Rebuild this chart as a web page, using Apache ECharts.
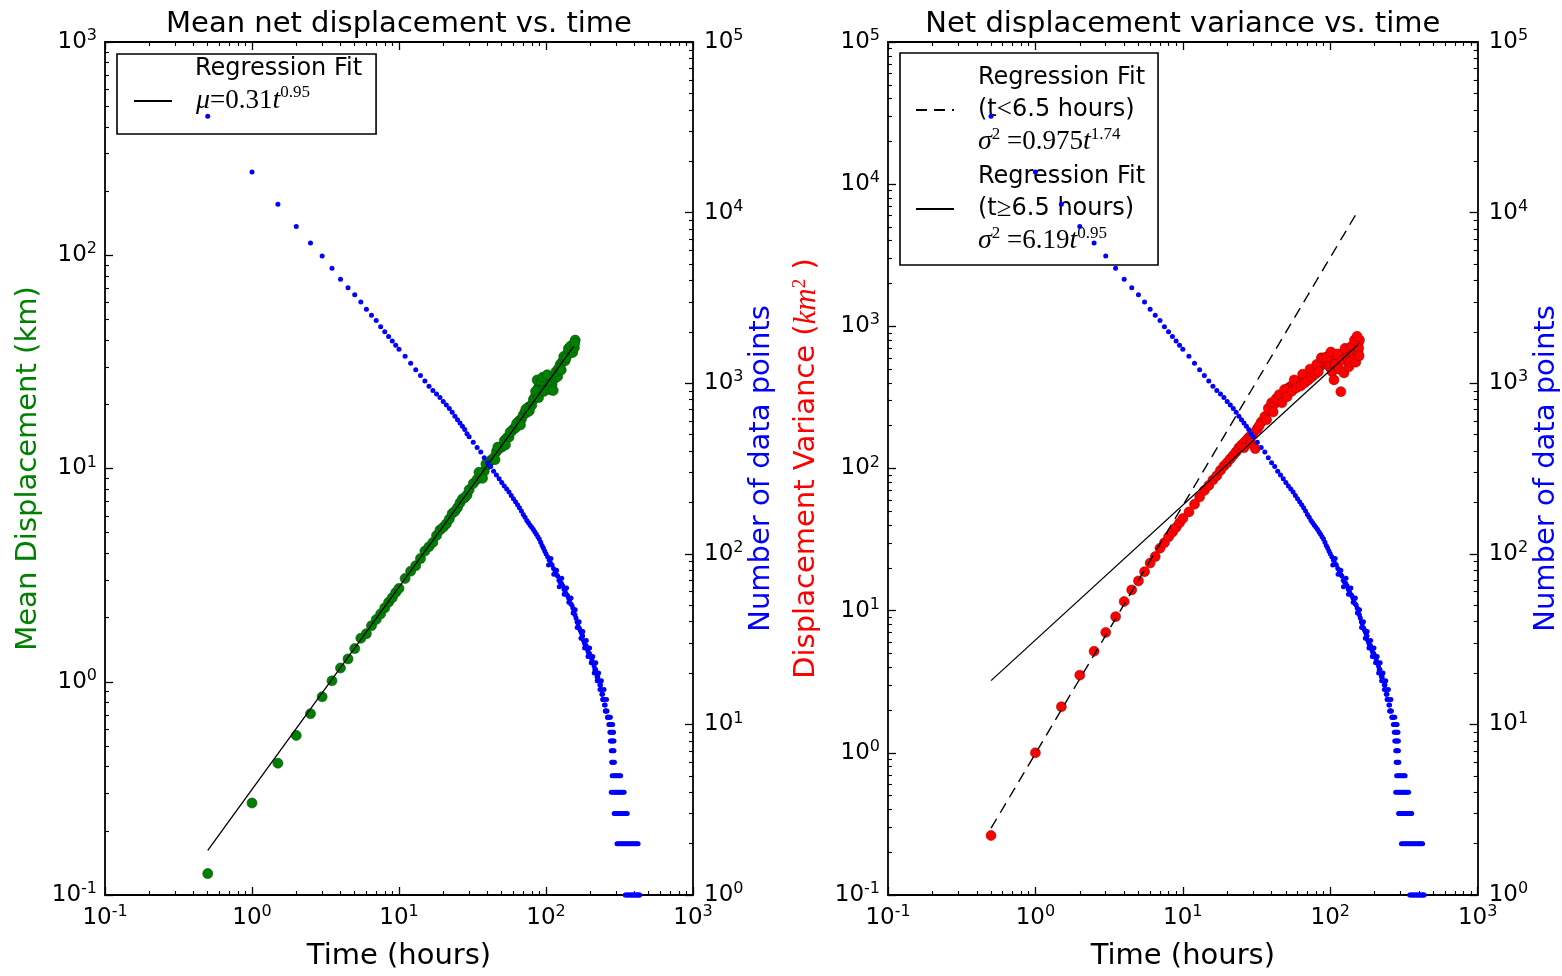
<!DOCTYPE html>
<html>
<head>
<meta charset="utf-8">
<script src="https://cdn.jsdelivr.net/npm/echarts@6/dist/echarts.min.js"></script>
<style>html,body{margin:0;padding:0;background:#fff}#c{width:1562px;height:976px}</style>
</head>
<body>
<div id="c"></div>
<script>
// ---------------- DATA ----------------
// time grid (hours) shared by mean displacement and variance samples
const TIME_GR = [0.5,1,1.5,2,2.5,3,3.5,4,4.5,5,5.5,6,6.5,7,7.5,8,8.5,9,9.5,10,
  11,12,13,14,15,16,17,18,19,20,21,22,23,24,25,26,27,28,29,30,
  32,34,36,38,40,42,44,46,48,50,52,54,56,58,60,62,64,66,68,70,72,74,76,78,80,82,84,86,88,90,92,94,96,98,100,
  105,110,115,120,125,130,135,140,145,150,155,158];
// mean net displacement (km)
const MEAN_DISP = [0.126,0.27,0.415,0.56,0.708,0.85,1.01,1.16,1.28,1.43,1.60,1.68,1.83,1.96,2.08,2.22,2.36,2.48,2.62,2.74,
  3.05,3.30,3.50,3.78,4.10,4.30,4.50,4.85,5.15,5.30,5.50,5.80,6.15,6.30,6.55,6.90,7.20,7.30,7.50,7.95,
  8.5,8.9,9.1,9.7,10.4,10.9,11.2,12.0,12.4,12.6,13.5,13.9,14.0,14.9,15.3,15.5,16.4,16.8,17.0,17.8,18.4,18.3,19.4,19.6,19.8,21.0,21.6,22.5,23.6,24.5,24.0,23.6,25.2,24.5,25.5,
  26.5,24.8,26.5,27.0,30.8,31.8,32.0,34.5,34.8,36.0,38.5,40.0];
// additional scattered mean-displacement samples [t, km]
const MEAN_DISP_SPREAD = [[35,9.6],[37,9.0],[39,10.5],[45,11.0],[47,12.6],[53,12.9],[57,14.8],[63,16.2],[67,16.0],[73,19.0],[77,18.6],
  [85,23.0],[87,26.0],[89,21.5],[93,25.8],[95,26.8],[97,23.0],[102,27.5],[107,23.4],[112,23.2],[117,28.5],[122,29.5],[127,29.0],
  [132,33.5],[137,33.0],[142,36.5],[147,37.5],[152,35.0],[156,36.8],[157,38.8]];
// displacement variance (km^2)
const VARIANCE = [0.262,1.0,2.11,3.52,5.18,7.03,9.08,11.6,14.0,16.2,18.8,21.6,24.0,27.5,30.0,33.0,35.6,38.5,41.5,44.5,
  49.5,56,63,70,76,83,89,97,104,110,117,124,131,140,146,152,158,165,170,176,
  190,212,232,265,290,285,300,315,335,350,368,378,385,395,405,412,420,432,440,446,456,470,480,486,500,506,520,530,540,546,556,562,570,576,582,
  592,610,625,636,652,670,680,690,702,722,760,800];
const VARIANCE_SPREAD = [[26,140],[29,150],[31,138],[33,200],[37,220],[41,250],[43,310],[45,330],[47,290],[49,360],[51,320],[55,350],
  [57,420],[59,370],[63,380],[65,460],[67,400],[71,420],[73,500],[75,440],[79,460],[81,540],[83,480],[87,600],[91,600],[95,610],
  [99,520],[101,660],[103,480],[106,420],[108,540],[112,640],[115,500],[118,347],[121,580],[124,470],[126,700],[131,600],[134,520],
  [136,560],[139,720],[143,640],[146,800],[149,560],[152,850],[154,650],[156,700],[157,620]];
// number of data points [t, count]
const COUNT_EARLY = [[0.5,36700],[1,17300],[1.5,11200],[2,8300],[2.5,6630],[3,5570],[3.5,4720],[4,4070],[4.5,3630],[5,3300],
  [5.5,2990],[6,2710],[6.5,2500],[7,2330],[7.5,2140],[8,2000],[8.5,1880],[9,1770],[9.5,1670],[10,1580],
  [11,1440],[12,1310],[13,1200],[14,1110],[15,1030],[16,960],[17,905],[18,865],[19,825],[20,780],[21,745],[22,710],[23,675],
  [24,640],[25,610],[26,585],[27,560],[28,535],[29,505],[30,485]];
const COUNT_MID = [[32,450],[34,420],[36,395],[38,365],[40,342],[42,325],[44,305],[46,290],[48,275],[50,262],[52,250],[54,240],
  [56,230],[58,220],[60,210],[62,202],[64,194],[66,186],[68,178],[70,170],[72,164],[74,157],[76,152],[78,147],[80,143],[82,139],
  [84,134],[86,130],[88,126],[90,122],[92,117],[94,112],[96,108],[98,104],[100,100]];
const COUNT_LATE = [[102.5,96],[105,92],[107.5,88],[110,86],[112.5,82],[115,80],[117.5,76],[120,74],[122.5,70],[125,68],
  [127.5,67],[130,65],[132.5,62],[135,60],[137.5,58],[140,57],[142.5,55],[145,54],[147.5,51],[150,50],[152.5,48],[155,46],
  [157.5,44],[160,42],[162.5,40],[165,39],[167.5,37],[170,36],[172.5,35],[175,34],[177.5,33],[180,31],[182.5,30],[185,29],
  [187.5,29],[190,28],[192.5,27],[195,26],[197.5,26],[200,25],[202.5,25],[205,24],[207.5,23],[210,23],[212.5,22],[215,21],
  [217.5,21],[220,20],[222.5,19],[225,19],[227.5,18],[230,18],[232.5,17],[235,17],[237.5,16],[240,15],[242.5,15],[245,14],
  [247.5,14],[250,13],[252.5,13],[255,12],[257.5,12],[260,12],[262.5,11],[265,11]];
const COUNT_SPREAD = [[104,86],[108,94],[113,76],[118,80],[123,64],[128,72],[133,58],[138,63],[143,52],[148,55],[153,45],[158,47],
  [163,37],[168,40],[173,32],[178,35],[183,28],[188,31],[193,25],[198,28],[203,23],[208,25],[213,20],[218,23],[223,18],[228,20],
  [233,16],[238,18],[243,14],[248,16],[253,12],[258,14]];
const COUNT_TAIL = [[262,11],[266,11],[270,11],[274,11],
  [268,10],[272,10],[276,10],[280,10],[284,10],
  [272,9],[276,9],[280,9],[285,9],[288,9],
  [274,8],[278,8],[282,8],[286,8],[290,8],
  [278,7],[282,7],[286,7],[290,7],
  [280,6],[284,6],[288,6],[292,6],
  [282,5],[288,5],[294,5],[300,5],[306,5],[312,5],[318,5],[322,5],
  [278,4],[284,4],[290,4],[296,4],[302,4],[308,4],[314,4],[320,4],[326,4],[332,4],[340,4],
  [291,3],[297,3],[303,3],[309,3],[315,3],[321,3],[327,3],[333,3],[339,3],[345,3],[351,3],[357,3],
  [304,2],[311,2],[318,2],[325,2],[332,2],[339,2],[346,2],[353,2],[360,2],[368,2],[376,2],[384,2],[392,2],[400,2],[408,2],[416,2],[423,2],
  [346,1],[352,1],[358,1],[364,1],[370,1],[376,1],[382,1],[388,1],[394,1],[400,1],[406,1],[412,1],[418,1],[424,1],[430,1],[434,1]];
// regression fit end points [t, value]
const FIT_MEAN = [[0.5,0.162],[155,37.5]];
const FIT_VAR_EARLY = [[0.5,0.295],[153,6400]];
const FIT_VAR_LATE = [[0.5,3.22],[155,745]];
// axis ranges (decade exponents)
const X_EXP = [-1, 3];
const Y_MEAN_EXP = [-1, 3];
const Y_VAR_EXP = [-1, 5];
const Y_COUNT_EXP = [0, 5];
const TITLES = ['Mean net displacement vs. time', 'Net displacement variance vs. time'];

// ---------------- CHART ----------------
const SANS = 'DejaVu Sans';
const SERIF = 'Liberation Serif';
const GREEN_C = '#008000', RED_C = '#ff0000', BLUE_C = '#0000ff';

function pair(ts, vs) { return ts.map((t, i) => [t, vs[i]]); }
function supLabel(v) { const e = Math.round(v); return '{b|10}{s|' + (e < 0 ? '-' : '') + Math.abs(e) + '}'; }
const tickRich = {
  b: { fontFamily: SANS, fontSize: 23, color: '#000', lineHeight: 28 },
  s: { fontFamily: SANS, fontSize: 16, color: '#000', lineHeight: 16, verticalAlign: 'top' }
};
function minorVals(r) {
  const out = [];
  for (let d = r[0]; d < r[1]; d++) for (let k = 2; k <= 9; k++) out.push(d + Math.log10(k));
  return out;
}
const AX_LINE = { color: '#000', width: 1.8 };
function majorAxis(g, pos, r, label, margin, extra) {
  return Object.assign({
    type: 'value', gridIndex: g, position: pos, min: r[0], max: r[1], interval: 1, silent: true,
    axisLine: { show: true, onZero: false, lineStyle: AX_LINE },
    axisTick: { show: true, inside: true, length: 8, lineStyle: { color: '#000', width: 1.3 } },
    axisLabel: { show: label, margin: margin, formatter: supLabel, rich: tickRich },
    splitLine: { show: false }
  }, extra || {});
}
function minorAxis(g, pos, r) {
  return {
    type: 'value', gridIndex: g, position: pos, min: r[0], max: r[1], silent: true,
    axisLine: { show: false, onZero: false },
    axisTick: { show: true, inside: true, length: 4, customValues: minorVals(r), lineStyle: { color: '#000', width: 1.1 } },
    axisLabel: { show: false }, splitLine: { show: false }
  };
}
function logAxis(g, pos, r) {
  return { type: 'log', logBase: 10, gridIndex: g, position: pos, min: Math.pow(10, r[0]), max: Math.pow(10, r[1]), show: false,
    axisLine: { onZero: false }, splitLine: { show: false } };
}
const nameStyle = (c) => ({ fontFamily: SANS, fontSize: 29, color: c });

const xAxes = [];
const yAxes = [];
[0, 1].forEach(g => {
  xAxes.push(logAxis(g, 'bottom', X_EXP));
  xAxes.push(majorAxis(g, 'bottom', X_EXP, true, 9, { name: 'Time (hours)', nameLocation: 'middle', nameGap: 47, nameTextStyle: nameStyle('#000') }));
  xAxes.push(minorAxis(g, 'bottom', X_EXP));
  xAxes.push(majorAxis(g, 'top', X_EXP, false, 8, { name: TITLES[g], nameLocation: 'middle', nameGap: 3, nameTextStyle: nameStyle('#000') }));
  xAxes.push(minorAxis(g, 'top', X_EXP));
});
// grid 0
yAxes.push(logAxis(0, 'left', Y_MEAN_EXP));
yAxes.push(logAxis(0, 'right', Y_COUNT_EXP));
yAxes.push(majorAxis(0, 'left', Y_MEAN_EXP, true, 8, { name: 'Mean Displacement (km)', nameLocation: 'middle', nameRotate: 90, nameGap: 62, nameTextStyle: nameStyle(GREEN_C) }));
yAxes.push(minorAxis(0, 'left', Y_MEAN_EXP));
yAxes.push(majorAxis(0, 'right', Y_COUNT_EXP, true, 11, { name: 'Number of data points', nameLocation: 'middle', nameRotate: 90, nameGap: 54, nameTextStyle: nameStyle(BLUE_C) }));
yAxes.push(minorAxis(0, 'right', Y_COUNT_EXP));
// grid 1
yAxes.push(logAxis(1, 'left', Y_VAR_EXP));
yAxes.push(logAxis(1, 'right', Y_COUNT_EXP));
yAxes.push(majorAxis(1, 'left', Y_VAR_EXP, true, 8, {
  name: '{t|Displacement Variance (}{m|km}{s|2}{t| )}', nameLocation: 'middle', nameRotate: 90, nameGap: 66,
  nameTextStyle: { rich: {
    t: { fontFamily: SANS, fontSize: 29, color: RED_C },
    m: { fontFamily: SERIF, fontStyle: 'italic', fontSize: 31, color: RED_C },
    s: { fontFamily: SERIF, fontSize: 19, color: RED_C, verticalAlign: 'top' } } }
}));
yAxes.push(minorAxis(1, 'left', Y_VAR_EXP));
yAxes.push(majorAxis(1, 'right', Y_COUNT_EXP, true, 11, { name: 'Number of data points', nameLocation: 'middle', nameRotate: 90, nameGap: 52, nameTextStyle: nameStyle(BLUE_C) }));
yAxes.push(minorAxis(1, 'right', Y_COUNT_EXP));

const blueAll = COUNT_EARLY.concat(COUNT_MID, COUNT_LATE, COUNT_SPREAD, COUNT_TAIL);
const greenAll = pair(TIME_GR, MEAN_DISP).concat(MEAN_DISP_SPREAD);
const redAll = pair(TIME_GR, VARIANCE).concat(VARIANCE_SPREAD);

const LEGEND_LABELS = {
  fitMean: '{mi|μ}{r|=0.31}{m|t}{s|0.95}',
  fitEarly: '{a|Regression Fit}\n{a|(t}{r|<}{b|6.5 hours)}\n{mi|σ}{s|2}{r| =0.975}{m|t}{s|1.74}',
  fitLate: '{a|Regression Fit}\n{a|(t}{r|≥}{b|6.5 hours)}\n{mi|σ}{s|2}{r| =6.19}{m|t}{s|0.95}'
};
function legendRich(lhText, lhMath) {
  return {
    a: { fontFamily: SANS, fontSize: 24, lineHeight: lhText, color: '#000', padding: [0, 0, 0, 19] },
    b: { fontFamily: SANS, fontSize: 24, lineHeight: lhText, color: '#000' },
    mi: { fontFamily: SERIF, fontStyle: 'italic', fontSize: 28, lineHeight: lhMath, color: '#000', padding: [0, 0, 0, 19] },
    m: { fontFamily: SERIF, fontStyle: 'italic', fontSize: 28, lineHeight: lhMath, color: '#000' },
    r: { fontFamily: SERIF, fontSize: 27, lineHeight: lhMath, color: '#000' },
    s: { fontFamily: SERIF, fontSize: 17, lineHeight: 22, color: '#000', verticalAlign: 'top' }
  };
}
const legendBase = {
  orient: 'vertical', borderColor: '#000', borderWidth: 1.6, backgroundColor: '#fff', selectedMode: false,
  itemWidth: 38, itemHeight: 14, formatter: n => LEGEND_LABELS[n],
  itemStyle: { color: 'rgba(0,0,0,0)', borderWidth: 0, opacity: 0 }
};

const option = {
  animation: false,
  backgroundColor: '#fff',
  title: [{ text: 'Regression Fit', left: 195, top: 57, padding: 0, z: 20,
    textStyle: { fontFamily: SANS, fontSize: 24, fontWeight: 'normal', color: '#000' } }],
  grid: [
    { left: 105, top: 42, width: 588, height: 861 },
    { left: 888, top: 42, width: 590, height: 861 }
  ],
  xAxis: xAxes,
  yAxis: yAxes,
  legend: [
    Object.assign({}, legendBase, { data: ['fitMean'], left: 117, top: 54, padding: [30, 66, 19, 16], itemGap: 8,
      textStyle: { rich: legendRich(30, 34) } }),
    Object.assign({}, legendBase, { data: ['fitEarly', 'fitLate'], left: 900, top: 53, padding: [13, 13, 10, 15], itemGap: 9,
      textStyle: { rich: legendRich(32, 32) } })
  ],
  series: [
    { type: 'scatter', name: 'mean', xAxisIndex: 0, yAxisIndex: 0, data: greenAll, symbolSize: 10,
      itemStyle: { color: GREEN_C, opacity: 1, borderColor: '#0b4a0b', borderWidth: 0.6 }, z: 2 },
    { type: 'line', name: 'fitMean', xAxisIndex: 0, yAxisIndex: 0, data: FIT_MEAN, symbol: 'none',
      itemStyle: { color: '#000' }, lineStyle: { color: '#000', width: 1.3 }, z: 3 },
    { type: 'scatter', name: 'countL', xAxisIndex: 0, yAxisIndex: 1, data: blueAll, symbolSize: 5,
      itemStyle: { color: BLUE_C, opacity: 1 }, z: 4 },
    { type: 'scatter', name: 'var', xAxisIndex: 5, yAxisIndex: 6, data: redAll, symbolSize: 10,
      itemStyle: { color: RED_C, opacity: 1, borderColor: '#8a0000', borderWidth: 0.5 }, z: 2 },
    { type: 'line', name: 'fitEarly', xAxisIndex: 5, yAxisIndex: 6, data: FIT_VAR_EARLY, symbol: 'none',
      itemStyle: { color: '#000' }, lineStyle: { color: '#000', width: 1.4, type: [11, 7] }, z: 3 },
    { type: 'line', name: 'fitLate', xAxisIndex: 5, yAxisIndex: 6, data: FIT_VAR_LATE, symbol: 'none',
      itemStyle: { color: '#000' }, lineStyle: { color: '#000', width: 1.3 }, z: 3 },
    { type: 'scatter', name: 'countR', xAxisIndex: 5, yAxisIndex: 7, data: blueAll, symbolSize: 5,
      itemStyle: { color: BLUE_C, opacity: 1 }, z: 4 }
  ]
};
const chart = echarts.init(document.getElementById('c'), null, { renderer: 'canvas' });
chart.setOption(option);
</script>
</body>
</html>
